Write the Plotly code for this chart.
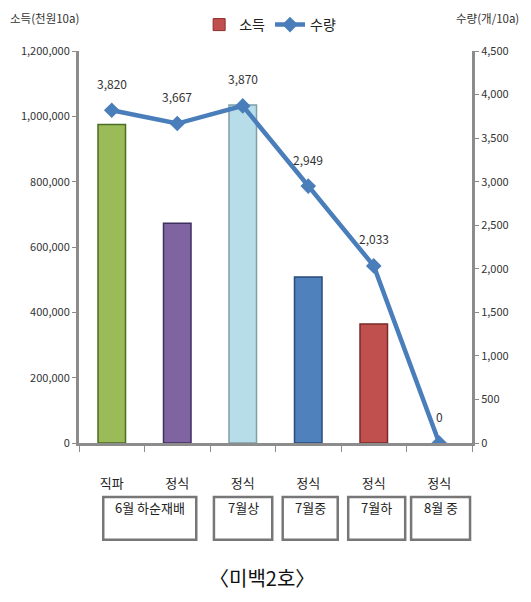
import plotly.graph_objects as go

# ---- data ----
methods = ["직파", "정식", "정식", "정식", "정식", "정식"]
periods = ["6월 하순재배", "7월상", "7월중", "7월하", "8월 중"]
income = [975000, 673000, 1035000, 508000, 364000, 0]      # 소득 (천원/10a)
yield_ = [3820, 3667, 3870, 2949, 2033, 0]                 # 수량 (개/10a)
yield_labels = ["3,820", "3,667", "3,870", "2,949", "2,033", "0"]
bar_colors = ["#9BBB59", "#8064A2", "#B7DEE8", "#4F81BD", "#C0504D", "#4F81BD"]
bar_lines = ["#4E6B25", "#3F2F5F", "#7F9FA8", "#2A4A7A", "#7A2A28", "rgba(0,0,0,0)"]

FONT = "Noto Sans CJK KR"
x = list(range(len(methods)))

fig = go.Figure()
fig.add_trace(go.Bar(
    x=x, y=income, width=0.42,
    marker=dict(color=bar_colors, line=dict(color=bar_lines, width=1.5)),
    showlegend=False, name="소득", yaxis="y",
))
# legend entry for the income series
fig.add_trace(go.Bar(x=[None], y=[None], name="소득",
                     marker=dict(color="#C0504D", line=dict(color="#8B2E2C", width=1)),
                     showlegend=True))
fig.add_trace(go.Scatter(
    x=x, y=yield_, mode="lines+markers", name="수량", yaxis="y2",
    line=dict(color="#4A7EBB", width=4.5),
    marker=dict(symbol="diamond", size=12, color="#4A7EBB"),
))

for xi, v, t in zip(x, yield_, yield_labels):
    fig.add_annotation(x=xi, y=v, yref="y2", text=t, showarrow=False, yshift=27,
                       font=dict(family=FONT, size=12, color="#333333"))

# group boxes below axis
box_spans = [(-0.13, 1.29), (1.56, 2.45), (2.61, 3.45), (3.61, 4.48), (4.57, 5.47)]
for (x0, x1), label in zip(box_spans, periods):
    fig.add_shape(type="rect", xref="x", yref="paper", x0=x0, x1=x1,
                  y0=-0.247, y1=-0.138, line=dict(color="#777777", width=2.5),
                  fillcolor="white")
    fig.add_annotation(x=(x0 + x1) / 2, y=-0.193, xref="x", yref="paper", text=label,
                       showarrow=False, font=dict(family=FONT, size=13, color="#222222"))

fig.add_annotation(x=0.465, y=-0.385, xref="paper", yref="paper", text="〈미백2호〉",
                   showarrow=False, font=dict(family=FONT, size=20, color="#111111"))
fig.add_annotation(x=-0.18, y=1.084, xref="paper", yref="paper", xanchor="left",
                   yanchor="middle", text="소득(천원10a)", showarrow=False,
                   font=dict(family=FONT, size=11.5, color="#333333"))
fig.add_annotation(x=1.125, y=1.084, xref="paper", yref="paper", xanchor="right",
                   yanchor="middle", text="수량(개/10a)", showarrow=False,
                   font=dict(family=FONT, size=11.5, color="#333333"))

axis_line = dict(showline=True, linecolor="#8C8C8C", linewidth=3, showgrid=False,
                 zeroline=False, ticks="outside", ticklen=4, tickcolor="#8C8C8C",
                 automargin=False)

fig.update_layout(
    width=515, height=586,
    margin=dict(l=71, r=51, t=43, b=151, autoexpand=False),
    plot_bgcolor="white", paper_bgcolor="white",
    font=dict(family=FONT, size=11, color="#333333"),
    legend=dict(orientation="h", x=0.509, xanchor="center", y=0.971, yanchor="middle",
                xref="container", yref="container",
                font=dict(family=FONT, size=14, color="#222222"), bgcolor="rgba(0,0,0,0)",
                itemwidth=30, traceorder="normal"),
    xaxis=dict(range=[-0.5, 5.5], tickmode="array", tickvals=x, ticktext=methods,
               showline=True, linecolor="#8C8C8C", linewidth=3, showgrid=False,
               zeroline=False, ticks="", ticklabelstandoff=26, automargin=False,
               tickfont=dict(family=FONT, size=13, color="#222222"),
               minor=dict(tickmode="array", tickvals=[-0.5, 0.5, 1.5, 2.5, 3.5, 4.5, 5.5],
                          ticks="outside", ticklen=6, tickcolor="#8C8C8C")),
    yaxis=dict(range=[0, 1200000], dtick=200000, tickformat=",", **axis_line),
    yaxis2=dict(range=[0, 4500], dtick=500, tickformat=",", overlaying="y", side="right",
                **axis_line),
)

fig.write_html("out.html")
